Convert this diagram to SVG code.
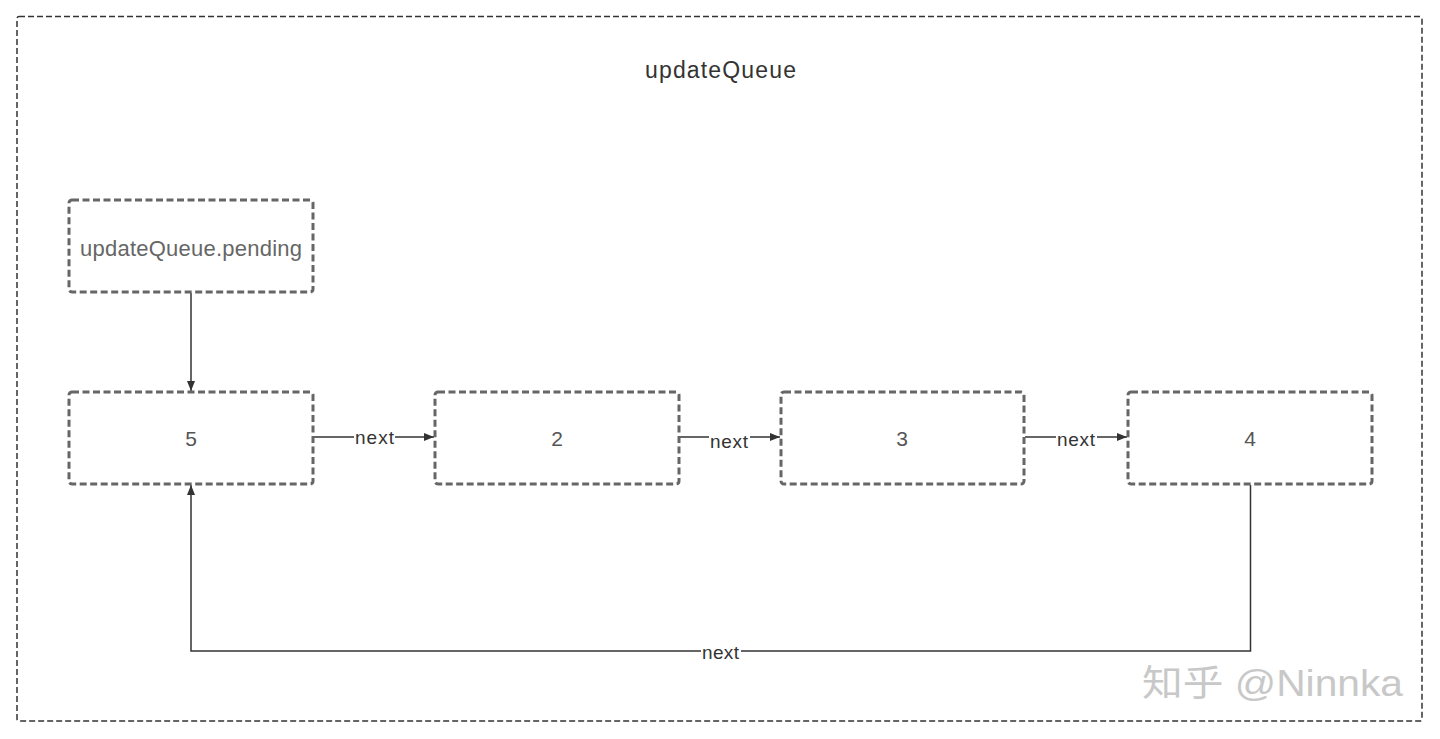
<svg xmlns="http://www.w3.org/2000/svg" width="1440" height="739" viewBox="0 0 1440 739">
  <defs>
    <marker id="arrow" viewBox="0 0 10 8" refX="10" refY="4" markerWidth="10" markerHeight="8" markerUnits="userSpaceOnUse" orient="auto">
      <path d="M0,0 L10,4 L0,8 Z" fill="#333"/>
    </marker>
  </defs>
  <style>
    .frame { fill: none; stroke: #333; stroke-width: 1.5; stroke-dasharray: 6 3; }
    .node { fill: #fff; stroke: #666; stroke-width: 3; stroke-dasharray: 7 3.5; }
    .edge { fill: none; stroke: #333; stroke-width: 1.5; marker-end: url(#arrow); }
    .title { font-family: "Liberation Sans", Arial, sans-serif; font-size: 23px; fill: #333; }
    .ntext { font-family: "Liberation Sans", Arial, sans-serif; font-size: 22px; fill: #666; }
    .num { font-family: "Liberation Sans", Arial, sans-serif; font-size: 21px; fill: #555; text-anchor: middle; }
    .lbl { font-family: "Liberation Sans", Arial, sans-serif; font-size: 19px; fill: #333; }
    .lblbg { fill: #fff; }
    .wm { font-family: "Liberation Sans", "Noto Sans CJK SC", sans-serif; font-size: 36px; fill: #c8c8c8; }
  </style>
  <rect width="1440" height="739" fill="#fff"/>

  <g id="frame">
    <rect class="frame" x="17" y="16.5" width="1405" height="704.5" rx="2"/>
    <text class="title" x="645" y="78" textLength="151" lengthAdjust="spacing">updateQueue</text>
  </g>

  <g id="connectors">
    <line class="edge" x1="191" y1="293" x2="191" y2="391"/>
    <line class="edge" x1="314" y1="437" x2="434" y2="437"/>
    <line class="edge" x1="680" y1="437" x2="780" y2="437"/>
    <line class="edge" x1="1025" y1="437" x2="1127" y2="437"/>
    <polyline class="edge" points="1250.5,485 1250.5,651 191,651 191,485"/>
    <rect class="lblbg" x="354" y="429" width="41" height="16"/>
    <text class="lbl" x="355" y="444" textLength="39" lengthAdjust="spacing">next</text>
    <rect class="lblbg" x="709" y="432" width="41" height="16"/>
    <text class="lbl" x="710" y="448" textLength="38" lengthAdjust="spacing">next</text>
    <rect class="lblbg" x="1056" y="430" width="41" height="16"/>
    <text class="lbl" x="1057" y="446" textLength="38" lengthAdjust="spacing">next</text>
    <rect class="lblbg" x="701" y="644" width="40" height="16"/>
    <text class="lbl" x="702" y="659" textLength="37" lengthAdjust="spacing">next</text>
  </g>

  <g id="node-pending">
    <rect class="node" x="69" y="200" width="244" height="92" rx="3"/>
    <text class="ntext" x="80" y="256" textLength="222" lengthAdjust="spacing">updateQueue.pending</text>
  </g>
  <g id="node-5">
    <rect class="node" x="69" y="392" width="244" height="92" rx="3"/>
    <text class="num" x="191" y="446">5</text>
  </g>
  <g id="node-2">
    <rect class="node" x="435" y="392" width="244" height="92" rx="3"/>
    <text class="num" x="557" y="446">2</text>
  </g>
  <g id="node-3">
    <rect class="node" x="781" y="392" width="243" height="92" rx="3"/>
    <text class="num" x="902" y="446">3</text>
  </g>
  <g id="node-4">
    <rect class="node" x="1128" y="392" width="244" height="92" rx="3"/>
    <text class="num" x="1250" y="446">4</text>
  </g>

  <g id="watermark">
    <text class="wm" x="1142" y="696" textLength="261" lengthAdjust="spacingAndGlyphs">知乎 @Ninnka</text>
  </g>
</svg>
